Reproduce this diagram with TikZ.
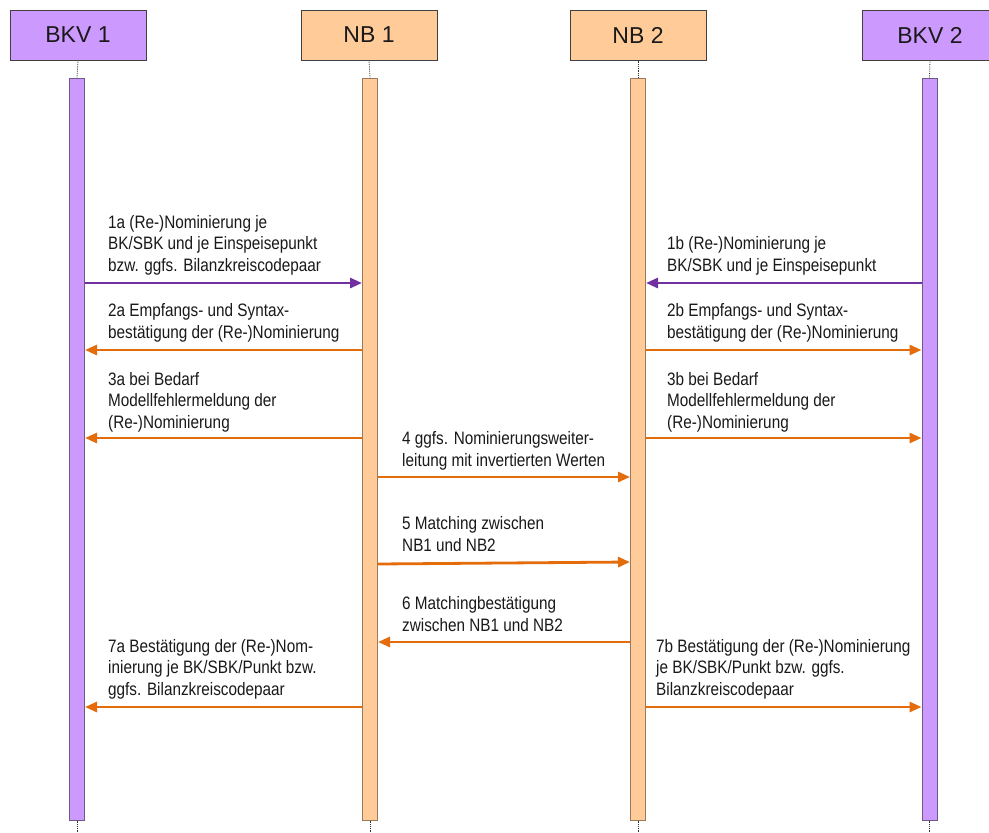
\documentclass[tikz,border=0pt]{standalone}
\usepackage{fontspec}
\setmainfont{Liberation Sans}
\newfontfamily\msgfont[FakeStretch=0.85]{Liberation Sans}
\usetikzlibrary{arrows.meta}
\definecolor{lilac}{HTML}{CC99FF}
\definecolor{peach}{HTML}{FFCC99}
\definecolor{lilacline}{HTML}{6E5A85}
\definecolor{peachline}{HTML}{9A7A5A}
\definecolor{msgorange}{HTML}{E46C0A}
\definecolor{msgpurple}{HTML}{7030A0}
\definecolor{boxline}{HTML}{404040}
\begin{document}
\begin{tikzpicture}[x=1pt,y=-1pt,
  head/.style={draw=boxline, line width=1pt, minimum width=136pt, minimum height=50pt,
    inner sep=0pt, font=\fontsize{23}{27}\selectfont, text=black!90},
  actbar/.style={line width=1pt, minimum width=15pt, minimum height=742pt, inner sep=0pt},
  lifeline/.style={densely dotted, line width=0.8pt, black!80},
  msg/.style={line width=2.8pt, -{Triangle[length=12pt,width=10pt]}},
  % anchored at the baseline of the last line
  lbl/.style={align=left, anchor=base west, inner sep=0pt,
    font=\msgfont\fontsize{18}{21.5}\selectfont, text=black!90}]
\clip (0,0) rectangle (989,833);
\fill[white] (0,0) rectangle (989,833);

% participants
\node[head, fill=lilac] (bkv1) at (78,35) {BKV 1};
\node[head, fill=peach] (nb1) at (369,35) {NB 1};
\node[head, fill=peach] (nb2) at (638,35) {NB 2};
\node[head, fill=lilac] (bkv2) at (930,35) {BKV 2};

% activation bars
\node[actbar, draw=lilacline, fill=lilac] (bkv1bar) at (77,449) {};
\node[actbar, draw=peachline, fill=peach] (nb1bar) at (370,449) {};
\node[actbar, draw=peachline, fill=peach] (nb2bar) at (638,449) {};
\node[actbar, draw=lilacline, fill=lilac] (bkv2bar) at (929.5,449) {};

% lifelines
\foreach \p in {bkv1,nb1,nb2,bkv2}{
  \draw[lifeline] (\p.south) -- (\p bar.north);
  \draw[lifeline] (\p bar.south) -- ++(0,14);
}

% messages
\draw[msg, msgpurple] (bkv1bar.east |- 0,283) -- (nb1bar.west |- 0,283);
\draw[msg, msgpurple] (bkv2bar.west |- 0,283) -- (nb2bar.east |- 0,283);
\draw[msg, msgorange] (nb1bar.west |- 0,350) -- (bkv1bar.east |- 0,350);
\draw[msg, msgorange] (nb2bar.east |- 0,350) -- (bkv2bar.west |- 0,350);
\draw[msg, msgorange] (nb1bar.west |- 0,438) -- (bkv1bar.east |- 0,438);
\draw[msg, msgorange] (nb2bar.east |- 0,438) -- (bkv2bar.west |- 0,438);
\draw[msg, msgorange] (nb1bar.east |- 0,477) -- (nb2bar.west |- 0,477);
\draw[msg, msgorange] (nb1bar.east |- 0,564) -- (nb2bar.west |- 0,562);
\draw[msg, msgorange] (nb2bar.west |- 0,642) -- (nb1bar.east |- 0,642);
\draw[msg, msgorange] (nb1bar.west |- 0,707) -- (bkv1bar.east |- 0,707);
\draw[msg, msgorange] (nb2bar.east |- 0,707) -- (bkv2bar.west |- 0,707);

% message labels
\node[lbl] (t1a) at (108,271) {1a (Re-)Nominierung je\\BK/SBK und je Einspeisepunkt\\bzw. ggfs. Bilanzkreiscodepaar};
\node[lbl] (t1b) at (667,271) {1b (Re-)Nominierung je\\BK/SBK und je Einspeisepunkt};
\node[lbl] (t2a) at (108,338) {2a Empfangs- und Syntax-\\bestätigung der (Re-)Nominierung};
\node[lbl] (t2b) at (667,338) {2b Empfangs- und Syntax-\\bestätigung der (Re-)Nominierung};
\node[lbl] (t3a) at (108,428) {3a bei Bedarf\\Modellfehlermeldung der\\(Re-)Nominierung};
\node[lbl] (t3b) at (667,428) {3b bei Bedarf\\Modellfehlermeldung der\\(Re-)Nominierung};
\node[lbl] (t4) at (402,466) {4 ggfs. Nominierungsweiter-\\leitung mit invertierten Werten};
\node[lbl] (t5) at (402,551) {5 Matching zwischen\\NB1 und NB2};
\node[lbl] (t6) at (402,631) {6 Matchingbestätigung\\zwischen NB1 und NB2};
\node[lbl] (t7a) at (108,695) {7a Bestätigung der (Re-)Nom-\\inierung je BK/SBK/Punkt bzw.\\ggfs. Bilanzkreiscodepaar};
\node[lbl] (t7b) at (656,695) {7b Bestätigung der (Re-)Nominierung\\je BK/SBK/Punkt bzw. ggfs.\\Bilanzkreiscodepaar};
\end{tikzpicture}
\end{document}
